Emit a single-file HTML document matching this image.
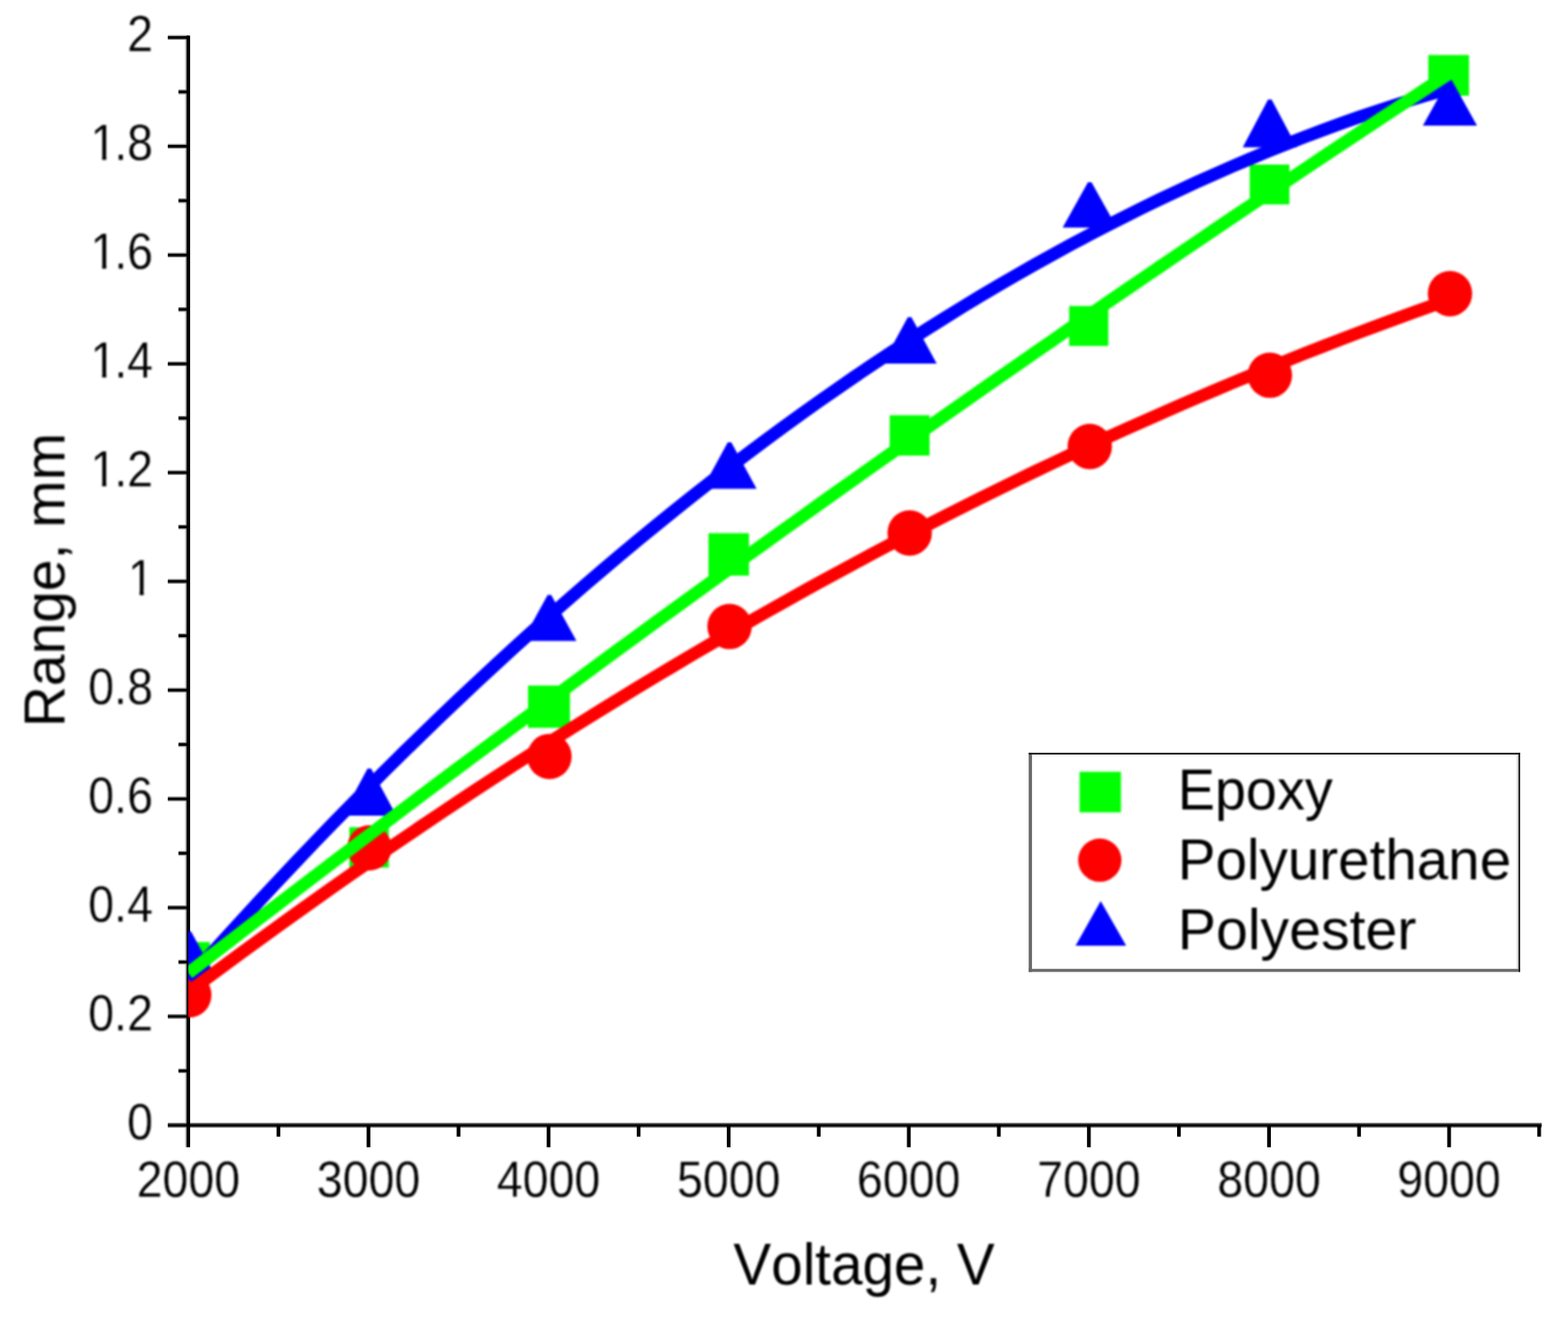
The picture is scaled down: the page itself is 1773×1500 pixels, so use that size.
<!DOCTYPE html>
<html lang="en"><head><meta charset="utf-8"><title>Range vs Voltage</title>
<style>
html,body{margin:0;padding:0;background:#fff;}
body{width:1773px;height:1500px;overflow:hidden;}
svg{display:block;}
text{font-family:"Liberation Sans", Arial, Helvetica, sans-serif;fill:#000;font-kerning:none;}
</style></head><body>
<svg width="1773" height="1500" viewBox="0 0 1773 1500" role="img" aria-label="Range (mm) versus Voltage (V) for Epoxy, Polyurethane and Polyester">
<rect x="0" y="0" width="1773" height="1500" fill="#ffffff"/>
<defs><filter id="soft" filterUnits="userSpaceOnUse" x="0" y="0" width="1773" height="1500" color-interpolation-filters="sRGB"><feGaussianBlur stdDeviation="0.80"/></filter></defs>
<g id="axes" fill="none" stroke-linecap="butt">
<line x1="210.00" y1="42.00" x2="210.00" y2="1296.80" stroke="#d2d2d2" stroke-width="2"/>
<line x1="201.80" y1="1210.43" x2="212.90" y2="1210.43" stroke="#8a8a8a" stroke-width="5.40"/>
<line x1="201.80" y1="1210.43" x2="212.90" y2="1210.43" stroke="#000" stroke-width="2.80"/>
<line x1="189.80" y1="1148.95" x2="212.90" y2="1148.95" stroke="#8a8a8a" stroke-width="5.40"/>
<line x1="189.80" y1="1148.95" x2="212.90" y2="1148.95" stroke="#000" stroke-width="2.80"/>
<line x1="201.80" y1="1087.48" x2="212.90" y2="1087.48" stroke="#8a8a8a" stroke-width="5.40"/>
<line x1="201.80" y1="1087.48" x2="212.90" y2="1087.48" stroke="#000" stroke-width="2.80"/>
<line x1="189.80" y1="1026.00" x2="212.90" y2="1026.00" stroke="#8a8a8a" stroke-width="5.40"/>
<line x1="189.80" y1="1026.00" x2="212.90" y2="1026.00" stroke="#000" stroke-width="2.80"/>
<line x1="201.80" y1="964.53" x2="212.90" y2="964.53" stroke="#8a8a8a" stroke-width="5.40"/>
<line x1="201.80" y1="964.53" x2="212.90" y2="964.53" stroke="#000" stroke-width="2.80"/>
<line x1="189.80" y1="903.05" x2="212.90" y2="903.05" stroke="#8a8a8a" stroke-width="5.40"/>
<line x1="189.80" y1="903.05" x2="212.90" y2="903.05" stroke="#000" stroke-width="2.80"/>
<line x1="201.80" y1="841.58" x2="212.90" y2="841.58" stroke="#8a8a8a" stroke-width="5.40"/>
<line x1="201.80" y1="841.58" x2="212.90" y2="841.58" stroke="#000" stroke-width="2.80"/>
<line x1="189.80" y1="780.10" x2="212.90" y2="780.10" stroke="#8a8a8a" stroke-width="5.40"/>
<line x1="189.80" y1="780.10" x2="212.90" y2="780.10" stroke="#000" stroke-width="2.80"/>
<line x1="201.80" y1="718.63" x2="212.90" y2="718.63" stroke="#8a8a8a" stroke-width="5.40"/>
<line x1="201.80" y1="718.63" x2="212.90" y2="718.63" stroke="#000" stroke-width="2.80"/>
<line x1="189.80" y1="657.15" x2="212.90" y2="657.15" stroke="#8a8a8a" stroke-width="5.40"/>
<line x1="189.80" y1="657.15" x2="212.90" y2="657.15" stroke="#000" stroke-width="2.80"/>
<line x1="201.80" y1="595.68" x2="212.90" y2="595.68" stroke="#8a8a8a" stroke-width="5.40"/>
<line x1="201.80" y1="595.68" x2="212.90" y2="595.68" stroke="#000" stroke-width="2.80"/>
<line x1="189.80" y1="534.20" x2="212.90" y2="534.20" stroke="#8a8a8a" stroke-width="5.40"/>
<line x1="189.80" y1="534.20" x2="212.90" y2="534.20" stroke="#000" stroke-width="2.80"/>
<line x1="201.80" y1="472.73" x2="212.90" y2="472.73" stroke="#8a8a8a" stroke-width="5.40"/>
<line x1="201.80" y1="472.73" x2="212.90" y2="472.73" stroke="#000" stroke-width="2.80"/>
<line x1="189.80" y1="411.25" x2="212.90" y2="411.25" stroke="#8a8a8a" stroke-width="5.40"/>
<line x1="189.80" y1="411.25" x2="212.90" y2="411.25" stroke="#000" stroke-width="2.80"/>
<line x1="201.80" y1="349.78" x2="212.90" y2="349.78" stroke="#8a8a8a" stroke-width="5.40"/>
<line x1="201.80" y1="349.78" x2="212.90" y2="349.78" stroke="#000" stroke-width="2.80"/>
<line x1="189.80" y1="288.30" x2="212.90" y2="288.30" stroke="#8a8a8a" stroke-width="5.40"/>
<line x1="189.80" y1="288.30" x2="212.90" y2="288.30" stroke="#000" stroke-width="2.80"/>
<line x1="201.80" y1="226.83" x2="212.90" y2="226.83" stroke="#8a8a8a" stroke-width="5.40"/>
<line x1="201.80" y1="226.83" x2="212.90" y2="226.83" stroke="#000" stroke-width="2.80"/>
<line x1="189.80" y1="165.35" x2="212.90" y2="165.35" stroke="#8a8a8a" stroke-width="5.40"/>
<line x1="189.80" y1="165.35" x2="212.90" y2="165.35" stroke="#000" stroke-width="2.80"/>
<line x1="201.80" y1="103.88" x2="212.90" y2="103.88" stroke="#8a8a8a" stroke-width="5.40"/>
<line x1="201.80" y1="103.88" x2="212.90" y2="103.88" stroke="#000" stroke-width="2.80"/>
<line x1="189.80" y1="42.40" x2="212.90" y2="42.40" stroke="#8a8a8a" stroke-width="5.40"/>
<line x1="189.80" y1="42.40" x2="212.90" y2="42.40" stroke="#000" stroke-width="2.80"/>
<line x1="189.80" y1="1271.90" x2="1743.20" y2="1271.90" stroke="#8a8a8a" stroke-width="5.60"/>
<line x1="189.80" y1="1271.90" x2="1743.20" y2="1271.90" stroke="#000" stroke-width="3.00"/>
<line x1="314.82" y1="1271.90" x2="314.82" y2="1284.80" stroke="#000" stroke-width="4.20"/>
<line x1="416.65" y1="1271.90" x2="416.65" y2="1296.80" stroke="#000" stroke-width="4.20"/>
<line x1="518.48" y1="1271.90" x2="518.48" y2="1284.80" stroke="#000" stroke-width="4.20"/>
<line x1="620.30" y1="1271.90" x2="620.30" y2="1296.80" stroke="#000" stroke-width="4.20"/>
<line x1="722.12" y1="1271.90" x2="722.12" y2="1284.80" stroke="#000" stroke-width="4.20"/>
<line x1="823.95" y1="1271.90" x2="823.95" y2="1296.80" stroke="#000" stroke-width="4.20"/>
<line x1="925.77" y1="1271.90" x2="925.77" y2="1284.80" stroke="#000" stroke-width="4.20"/>
<line x1="1027.60" y1="1271.90" x2="1027.60" y2="1296.80" stroke="#000" stroke-width="4.20"/>
<line x1="1129.42" y1="1271.90" x2="1129.42" y2="1284.80" stroke="#000" stroke-width="4.20"/>
<line x1="1231.25" y1="1271.90" x2="1231.25" y2="1296.80" stroke="#000" stroke-width="4.20"/>
<line x1="1333.08" y1="1271.90" x2="1333.08" y2="1284.80" stroke="#000" stroke-width="4.20"/>
<line x1="1434.90" y1="1271.90" x2="1434.90" y2="1296.80" stroke="#000" stroke-width="4.20"/>
<line x1="1536.72" y1="1271.90" x2="1536.72" y2="1284.80" stroke="#000" stroke-width="4.20"/>
<line x1="1638.55" y1="1271.90" x2="1638.55" y2="1296.80" stroke="#000" stroke-width="4.20"/>
<line x1="1740.38" y1="1271.90" x2="1740.38" y2="1284.80" stroke="#000" stroke-width="4.20"/>
<line x1="212.90" y1="40.30" x2="212.90" y2="1296.80" stroke="#000" stroke-width="4.20"/>
</g>
<g id="labels" filter="url(#soft)">
<g id="ylabels" stroke="#fff" stroke-width="0.25">
<text transform="translate(173.00 1287.80) scale(1.0000 1.0850)" font-size="52.60" text-anchor="end">0</text>
<text transform="translate(173.00 1164.85) scale(1.0000 1.0850)" font-size="52.60" text-anchor="end">0.2</text>
<text transform="translate(173.00 1041.90) scale(1.0000 1.0850)" font-size="52.60" text-anchor="end">0.4</text>
<text transform="translate(173.00 918.95) scale(1.0000 1.0850)" font-size="52.60" text-anchor="end">0.6</text>
<text transform="translate(173.00 796.00) scale(1.0000 1.0850)" font-size="52.60" text-anchor="end">0.8</text>
<text transform="translate(143.75 673.05) scale(1.0000 1.0850)" x="1.00" font-size="52.60" text-anchor="start">1</text>
<text transform="translate(99.89 550.10) scale(1.0000 1.0850)" x="2.40 29.25" font-size="52.60" text-anchor="start">1.2</text>
<text transform="translate(99.89 427.15) scale(1.0000 1.0850)" x="2.40 29.25" font-size="52.60" text-anchor="start">1.4</text>
<text transform="translate(99.89 304.20) scale(1.0000 1.0850)" x="2.40 29.25" font-size="52.60" text-anchor="start">1.6</text>
<text transform="translate(99.89 181.25) scale(1.0000 1.0850)" x="2.40 29.25" font-size="52.60" text-anchor="start">1.8</text>
<text transform="translate(173.00 58.30) scale(1.0000 1.0850)" font-size="52.60" text-anchor="end">2</text>
<rect x="147.38" y="667.77" width="10.42" height="6.28" fill="#fff"/>
<rect x="162.74" y="667.77" width="9.99" height="6.28" fill="#fff"/>
<rect x="104.92" y="544.82" width="10.42" height="6.28" fill="#fff"/>
<rect x="120.27" y="544.82" width="9.99" height="6.28" fill="#fff"/>
<rect x="104.92" y="421.87" width="10.42" height="6.28" fill="#fff"/>
<rect x="120.27" y="421.87" width="9.99" height="6.28" fill="#fff"/>
<rect x="104.92" y="298.92" width="10.42" height="6.28" fill="#fff"/>
<rect x="120.27" y="298.92" width="9.99" height="6.28" fill="#fff"/>
<rect x="104.92" y="175.97" width="10.42" height="6.28" fill="#fff"/>
<rect x="120.27" y="175.97" width="9.99" height="6.28" fill="#fff"/>
</g>
<g id="xlabels" stroke="#fff" stroke-width="0.25">
<text transform="translate(213.00 1352.90) scale(1.0000 1.0850)" font-size="52.60" text-anchor="middle">2000</text>
<text transform="translate(416.65 1352.90) scale(1.0000 1.0850)" font-size="52.60" text-anchor="middle">3000</text>
<text transform="translate(620.30 1352.90) scale(1.0000 1.0850)" font-size="52.60" text-anchor="middle">4000</text>
<text transform="translate(823.95 1352.90) scale(1.0000 1.0850)" font-size="52.60" text-anchor="middle">5000</text>
<text transform="translate(1027.60 1352.90) scale(1.0000 1.0850)" font-size="52.60" text-anchor="middle">6000</text>
<text transform="translate(1231.25 1352.90) scale(1.0000 1.0850)" font-size="52.60" text-anchor="middle">7000</text>
<text transform="translate(1434.90 1352.90) scale(1.0000 1.0850)" font-size="52.60" text-anchor="middle">8000</text>
<text transform="translate(1638.55 1352.90) scale(1.0000 1.0850)" font-size="52.60" text-anchor="middle">9000</text>
</g>
<text id="xtitle" transform="translate(977.00 1452.10) scale(1.0000 1.0300)" font-size="64.00" text-anchor="middle">Voltage, V</text>
<text id="ytitle" transform="translate(72.90 655.70) rotate(-90) scale(1.0060 1.0000)" font-size="64.00" text-anchor="middle">Range, mm</text>
</g>
<defs><clipPath id="plot"><rect x="212.90" y="0" width="1560.10" height="1271.90"/></clipPath></defs>
<g id="series" clip-path="url(#plot)"><g filter="url(#soft)">
<rect x="191.20" y="1064.80" width="46.00" height="46.00" fill="#00ff00"/>
<rect x="395.00" y="935.00" width="44.60" height="45.70" fill="#00ff00"/>
<rect x="597.07" y="774.90" width="47.46" height="47.80" fill="#00ff00"/>
<rect x="801.10" y="602.70" width="45.77" height="48.00" fill="#00ff00"/>
<rect x="1006.00" y="469.40" width="45.07" height="45.60" fill="#00ff00"/>
<rect x="1208.96" y="345.90" width="44.27" height="45.17" fill="#00ff00"/>
<rect x="1413.13" y="186.00" width="44.80" height="45.07" fill="#00ff00"/>
<rect x="1615.07" y="62.17" width="45.97" height="46.03" fill="#00ff00"/>
<ellipse cx="214.00" cy="1124.61" rx="25.10" ry="25.70" fill="#ff0000"/>
<ellipse cx="417.65" cy="958.38" rx="25.10" ry="25.70" fill="#ff0000"/>
<ellipse cx="621.30" cy="855.10" rx="25.10" ry="25.70" fill="#ff0000"/>
<ellipse cx="824.95" cy="708.17" rx="25.10" ry="25.70" fill="#ff0000"/>
<ellipse cx="1028.60" cy="602.44" rx="25.10" ry="25.70" fill="#ff0000"/>
<ellipse cx="1232.25" cy="504.69" rx="25.10" ry="25.70" fill="#ff0000"/>
<ellipse cx="1435.90" cy="424.16" rx="25.10" ry="25.70" fill="#ff0000"/>
<ellipse cx="1639.55" cy="331.95" rx="25.10" ry="25.70" fill="#ff0000"/>
<polygon points="211.95,1052.80 215.95,1052.80 244.55,1105.00 183.35,1105.00" fill="#0000ff"/>
<polygon points="415.60,868.70 419.60,868.70 448.20,921.90 387.00,921.90" fill="#0000ff"/>
<polygon points="619.25,672.50 623.25,672.50 651.85,724.50 590.65,724.50" fill="#0000ff"/>
<polygon points="822.90,500.00 826.90,500.00 855.50,552.40 794.30,552.40" fill="#0000ff"/>
<polygon points="1026.55,358.40 1030.55,358.40 1059.15,411.00 997.95,411.00" fill="#0000ff"/>
<polygon points="1230.20,205.90 1234.20,205.90 1262.80,257.20 1201.60,257.20" fill="#0000ff"/>
<polygon points="1433.85,112.60 1437.85,112.60 1466.45,166.50 1405.25,166.50" fill="#0000ff"/>
<polygon points="1637.50,90.40 1641.50,90.40 1670.10,142.10 1608.90,142.10" fill="#0000ff"/>
<polyline points="213.00,1106.93 233.37,1084.13 253.73,1061.57 274.10,1039.25 294.46,1017.18 314.82,995.36 335.19,973.77 355.56,952.43 375.92,931.34 396.28,910.49 416.65,889.88 437.01,869.52 457.38,849.40 477.75,829.53 498.11,809.90 518.48,790.51 538.84,771.37 559.20,752.47 579.57,733.81 599.93,715.40 620.30,697.24 640.66,679.32 661.03,661.64 681.39,644.20 701.76,627.01 722.12,610.07 742.49,593.37 762.86,576.91 783.22,560.69 803.59,544.72 823.95,529.00 844.31,513.52 864.68,498.28 885.04,483.29 905.41,468.54 925.77,454.03 946.14,439.77 966.50,425.75 986.87,411.98 1007.24,398.45 1027.60,385.17 1047.97,372.13 1068.33,359.33 1088.69,346.78 1109.06,334.47 1129.42,322.40 1149.79,310.58 1170.15,299.00 1190.52,287.67 1210.88,276.58 1231.25,265.74 1251.62,255.14 1271.98,244.78 1292.35,234.67 1312.71,224.80 1333.08,215.18 1353.44,205.80 1373.81,196.66 1394.17,187.77 1414.54,179.12 1434.90,170.72 1455.26,162.56 1475.63,154.64 1495.99,146.97 1516.36,139.54 1536.72,132.36 1557.09,125.42 1577.45,118.72 1597.82,112.27 1618.18,106.06 1638.55,100.10" fill="none" stroke="#0000ff" stroke-width="14.30" stroke-linejoin="round" stroke-linecap="butt"/>
<polyline points="213.00,1099.94 233.37,1084.23 253.73,1068.54 274.10,1052.90 294.46,1037.29 314.82,1021.71 335.19,1006.16 355.56,990.66 375.92,975.18 396.28,959.74 416.65,944.34 437.01,928.97 457.38,913.63 477.75,898.33 498.11,883.06 518.48,867.83 538.84,852.63 559.20,837.47 579.57,822.34 599.93,807.25 620.30,792.19 640.66,777.16 661.03,762.17 681.39,747.21 701.76,732.29 722.12,717.41 742.49,702.55 762.86,687.74 783.22,672.95 803.59,658.20 823.95,643.49 844.31,628.81 864.68,614.17 885.04,599.56 905.41,584.98 925.77,570.44 946.14,555.93 966.50,541.46 986.87,527.02 1007.24,512.62 1027.60,498.25 1047.97,483.92 1068.33,469.62 1088.69,455.35 1109.06,441.12 1129.42,426.92 1149.79,412.76 1170.15,398.64 1190.52,384.54 1210.88,370.49 1231.25,356.46 1251.62,342.47 1271.98,328.52 1292.35,314.60 1312.71,300.72 1333.08,286.87 1353.44,273.05 1373.81,259.27 1394.17,245.52 1414.54,231.81 1434.90,218.13 1455.26,204.49 1475.63,190.88 1495.99,177.31 1516.36,163.77 1536.72,150.26 1557.09,136.79 1577.45,123.36 1597.82,109.96 1618.18,96.59 1638.55,83.26" fill="none" stroke="#00ff00" stroke-width="14.30" stroke-linejoin="round" stroke-linecap="butt"/>
<polyline points="213.00,1121.54 233.37,1106.34 253.73,1091.25 274.10,1076.28 294.46,1061.43 314.82,1046.70 335.19,1032.08 355.56,1017.57 375.92,1003.19 396.28,988.92 416.65,974.77 437.01,960.73 457.38,946.81 477.75,933.01 498.11,919.32 518.48,905.75 538.84,892.30 559.20,878.96 579.57,865.74 599.93,852.64 620.30,839.65 640.66,826.78 661.03,814.03 681.39,801.39 701.76,788.87 722.12,776.46 742.49,764.18 762.86,752.00 783.22,739.95 803.59,728.01 823.95,716.19 844.31,704.49 864.68,692.90 885.04,681.43 905.41,670.07 925.77,658.83 946.14,647.71 966.50,636.70 986.87,625.81 1007.24,615.04 1027.60,604.39 1047.97,593.85 1068.33,583.42 1088.69,573.12 1109.06,562.93 1129.42,552.85 1149.79,542.90 1170.15,533.06 1190.52,523.33 1210.88,513.73 1231.25,504.24 1251.62,494.86 1271.98,485.61 1292.35,476.47 1312.71,467.44 1333.08,458.53 1353.44,449.74 1373.81,441.07 1394.17,432.51 1414.54,424.07 1434.90,415.74 1455.26,407.54 1475.63,399.44 1495.99,391.47 1516.36,383.61 1536.72,375.87 1557.09,368.24 1577.45,360.73 1597.82,353.34 1618.18,346.07 1638.55,338.91" fill="none" stroke="#ff0000" stroke-width="14.30" stroke-linejoin="round" stroke-linecap="butt"/>
</g></g>
<g id="legend">
<rect x="1163.20" y="850.90" width="555.70" height="247.70" fill="#fff"/>
<rect x="1163.20" y="850.90" width="3.70" height="247.70" fill="#686868"/>
<rect x="1163.20" y="1095.20" width="555.70" height="3.40" fill="#686868"/>
<rect x="1715.20" y="850.90" width="1.90" height="244.30" fill="#cfcfcf"/>
<rect x="1717.00" y="850.90" width="1.90" height="247.70" fill="#222222"/>
<rect x="1166.90" y="852.80" width="548.30" height="1.60" fill="#ececec"/>
<rect x="1163.20" y="850.90" width="555.70" height="1.95" fill="#1a1a1a"/>
<g filter="url(#soft)">
<rect x="1220.70" y="872.40" width="46.80" height="45.90" fill="#00ff00"/>
<circle cx="1243.60" cy="972.30" r="24.50" fill="#ff0000"/>
<polygon points="1244.60,1018.50 1273.40,1069.10 1216.20,1069.10" fill="#0000ff"/>
<text transform="translate(1331.70 915.30) scale(0.9860 1.0150)" font-size="64.00" text-anchor="start">Epoxy</text>
<text transform="translate(1331.70 994.10) scale(1.0000 1.0150)" font-size="64.00" text-anchor="start">Polyurethane</text>
<text transform="translate(1331.70 1072.60) scale(1.0120 1.0150)" font-size="64.00" text-anchor="start">Polyester</text>
</g></g>
</svg>
</body></html>
